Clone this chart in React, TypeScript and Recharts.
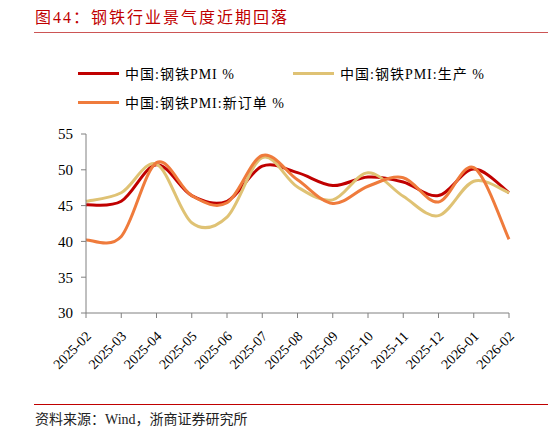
import React from "react";
import { LineChart, Line, XAxis, YAxis } from "recharts";

const months = [
  "2025-02", "2025-03", "2025-04", "2025-05", "2025-06", "2025-07", "2025-08",
  "2025-09", "2025-10", "2025-11", "2025-12", "2026-01", "2026-02",
];
const pmi = [45.1, 45.6, 50.7, 46.4, 45.6, 50.5, 49.6, 47.8, 49.0, 48.3, 46.4, 50.1, 46.8];
const production = [45.6, 46.8, 50.8, 42.6, 43.4, 51.7, 47.6, 45.8, 49.6, 46.3, 43.6, 48.4, 46.8];
const newOrders = [40.2, 40.7, 51.0, 46.4, 45.4, 52.0, 48.6, 45.3, 47.7, 48.9, 45.5, 50.3, 40.3];
const yTicks = [30, 35, 40, 45, 50, 55];

const seriesNames = ["中国:钢铁PMI %", "中国:钢铁PMI:生产 %", "中国:钢铁PMI:新订单 %"];
const COLORS = ["#C00000", "#DFC274", "#EF7B3C"];

const data = months.map((m, i) => ({
  month: m,
  pmi: pmi[i],
  production: production[i],
  newOrders: newOrders[i],
}));

const SERIF = '"Liberation Serif", "Times New Roman", "Noto Sans CJK SC", serif';
const AXIS = "#808080";

// Excel-style smoothed line (Catmull-Rom through every point)
const smoothCurve = (context: any) => {
  let pts: number[][] = [];
  return {
    areaStart() {},
    areaEnd() {},
    lineStart() {
      pts = [];
    },
    point(x: number, y: number) {
      pts.push([+x, +y]);
    },
    lineEnd() {
      if (!pts.length) return;
      context.moveTo(pts[0][0], pts[0][1]);
      for (let i = 0; i < pts.length - 1; i++) {
        const p0 = pts[i - 1] || pts[i];
        const p1 = pts[i];
        const p2 = pts[i + 1];
        const p3 = pts[i + 2] || p2;
        context.bezierCurveTo(
          p1[0] + (p2[0] - p0[0]) / 6,
          p1[1] + (p2[1] - p0[1]) / 6,
          p2[0] - (p3[0] - p1[0]) / 6,
          p2[1] - (p3[1] - p1[1]) / 6,
          p2[0],
          p2[1]
        );
      }
    },
  };
};

const MonthTick = (props: any) => {
  const { x, y, payload } = props;
  return (
    <g transform={`translate(${x + 6},${y + 17})`}>
      <text
        textAnchor="end"
        transform="rotate(-45)"
        fontSize={14}
        fontFamily={SERIF}
        fill="#000"
      >
        {payload.value}
      </text>
    </g>
  );
};

const LegendItem = ({ left, top, color, label }: any) => (
  <div style={{ position: "absolute", left, top, display: "flex", alignItems: "center" }}>
    <div style={{ width: 41, height: 3, background: color, marginRight: 6 }} />
    <span style={{ fontSize: 14, fontFamily: SERIF, letterSpacing: 1, whiteSpace: "nowrap" }}>
      {label}
    </span>
  </div>
);

export default function App() {
  return (
    <div
      style={{
        position: "absolute",
        left: 0,
        top: 0,
        width: 548,
        height: 430,
        background: "#fff",
        overflow: "hidden",
      }}
    >
      <div
        style={{
          position: "absolute",
          left: 35,
          top: 4,
          fontSize: 16,
          color: "#C00000",
          fontFamily: SERIF,
          letterSpacing: 2,
          whiteSpace: "nowrap",
        }}
      >
        图44：钢铁行业景气度近期回落
      </div>
      <div style={{ position: "absolute", left: 34, right: 0, top: 32, height: 1, background: "#CC5555" }} />

      <LegendItem left={78} top={63} color={COLORS[0]} label={seriesNames[0]} />
      <LegendItem left={293} top={63} color={COLORS[1]} label={seriesNames[1]} />
      <LegendItem left={78} top={92} color={COLORS[2]} label={seriesNames[2]} />

      <div style={{ position: "absolute", left: 0, top: 0 }}>
        <LineChart
          width={548}
          height={430}
          data={data}
          margin={{ top: 134, right: 39, bottom: 47, left: 36 }}
        >
          <XAxis
            dataKey="month"
            interval={0}
            height={70}
            stroke={AXIS}
            tickSize={5}
            tickLine={{ stroke: AXIS }}
            tick={<MonthTick />}
          />
          <YAxis
            width={50}
            domain={[30, 55]}
            ticks={yTicks}
            interval={0}
            stroke={AXIS}
            tickSize={5}
            tickMargin={8}
            tick={{ fontSize: 15, fontFamily: SERIF, fill: "#000" }}
          />
          <Line
            dataKey="pmi"
            stroke={COLORS[0]}
            strokeWidth={3}
            dot={false}
            type={smoothCurve as any}
            isAnimationActive={false}
          />
          <Line
            dataKey="production"
            stroke={COLORS[1]}
            strokeWidth={3}
            dot={false}
            type={smoothCurve as any}
            isAnimationActive={false}
          />
          <Line
            dataKey="newOrders"
            stroke={COLORS[2]}
            strokeWidth={3}
            dot={false}
            type={smoothCurve as any}
            isAnimationActive={false}
          />
        </LineChart>
      </div>

      <div style={{ position: "absolute", left: 34, right: 0, top: 404, height: 1, background: "#C00000" }} />
      <div
        style={{
          position: "absolute",
          left: 35,
          top: 408,
          fontSize: 14,
          fontFamily: SERIF,
          color: "#222",
          whiteSpace: "nowrap",
        }}
      >
        资料来源：Wind，浙商证券研究所
      </div>
    </div>
  );
}
